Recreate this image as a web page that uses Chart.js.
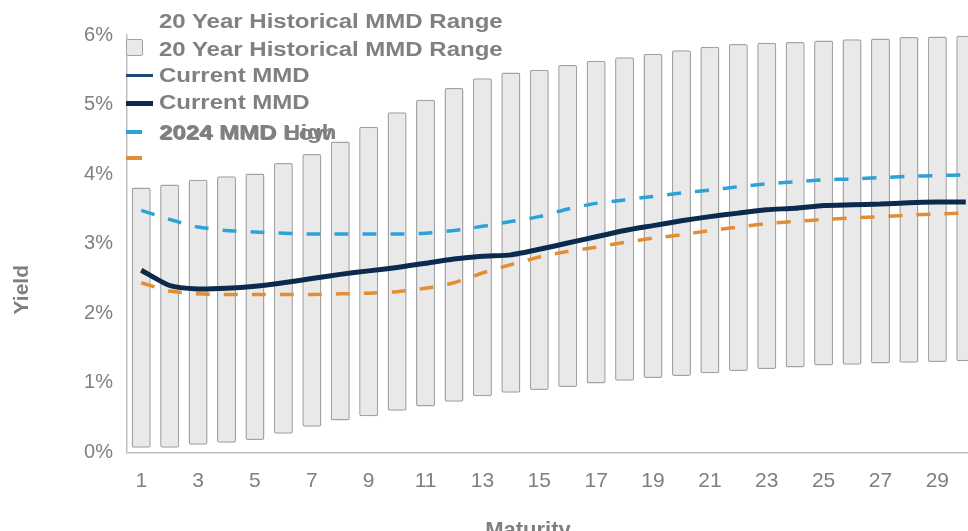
<!DOCTYPE html>
<html>
<head>
<meta charset="utf-8">
<script src="https://cdn.jsdelivr.net/npm/chart.js@4.4.1/dist/chart.umd.min.js"></script>
<style>
  html, body { margin: 0; padding: 0; background: #fff; overflow: hidden; }
  #wrap { position: relative; width: 990px; height: 545px; }
  #legend { position: absolute; left: 0; top: 0; width: 600px; height: 170px; pointer-events: none; }
  .lg-text {
    position: absolute; left: 159px;
    font-family: "Liberation Sans", Arial, sans-serif; font-weight: bold; font-size: 20px;
    color: #808080; line-height: 20px; white-space: nowrap;
    transform: scaleX(1.2); transform-origin: left center;
  }
  .lg-mark { position: absolute; left: 126px; }
</style>
</head>
<body>
<div id="wrap">
  <canvas id="chart" width="990" height="545"></canvas>
  <div id="legend"></div>
</div>
<script>
const maturities = [1, 2, 3, 4, 5, 6, 7, 8, 9, 10, 11, 12, 13, 14, 15, 16, 17, 18, 19, 20, 21, 22, 23, 24, 25, 26, 27, 28, 29, 30];
const rangeLow = [0.07, 0.07, 0.11, 0.14, 0.18, 0.27, 0.37, 0.46, 0.52, 0.60, 0.66, 0.73, 0.81, 0.86, 0.90, 0.94, 0.99, 1.03, 1.07, 1.10, 1.14, 1.17, 1.20, 1.22, 1.25, 1.26, 1.28, 1.29, 1.30, 1.31];
const rangeHigh = [3.81, 3.85, 3.92, 3.97, 4.01, 4.16, 4.29, 4.47, 4.68, 4.89, 5.07, 5.24, 5.38, 5.46, 5.50, 5.57, 5.63, 5.68, 5.73, 5.78, 5.83, 5.87, 5.89, 5.90, 5.92, 5.94, 5.95, 5.97, 5.98, 5.99];
const currentMMD = [2.62, 2.40, 2.35, 2.36, 2.39, 2.44, 2.50, 2.56, 2.61, 2.66, 2.72, 2.78, 2.82, 2.84, 2.92, 3.01, 3.10, 3.19, 3.26, 3.33, 3.39, 3.44, 3.49, 3.51, 3.55, 3.56, 3.57, 3.59, 3.60, 3.60];
const high2024 = [3.48, 3.35, 3.24, 3.19, 3.17, 3.15, 3.14, 3.14, 3.14, 3.14, 3.15, 3.19, 3.25, 3.32, 3.39, 3.50, 3.58, 3.63, 3.68, 3.73, 3.77, 3.82, 3.86, 3.89, 3.92, 3.93, 3.95, 3.97, 3.98, 3.99];
const low2024 = [2.44, 2.32, 2.28, 2.27, 2.27, 2.27, 2.27, 2.28, 2.29, 2.31, 2.36, 2.44, 2.58, 2.70, 2.81, 2.89, 2.95, 3.02, 3.08, 3.13, 3.19, 3.24, 3.29, 3.32, 3.35, 3.37, 3.39, 3.41, 3.43, 3.44];
const xTickLabels = ["1", "3", "5", "7", "9", "11", "13", "15", "17", "19", "21", "23", "25", "27", "29"];
const yTicks = [0, 1, 2, 3, 4, 5, 6];

const grey = "#7f7f7f";
const fontFamily = "'Liberation Sans', Arial, sans-serif";

// axis titles sit off-centre in the original, so they are drawn here
const axisTitles = {
    id: "axisTitles",
    afterDraw(chart) {
        const { ctx, chartArea: a } = chart;
        ctx.save();
        ctx.fillStyle = grey;
        ctx.font = "bold 21px " + fontFamily;
        ctx.textAlign = "center";
        ctx.textBaseline = "middle";
        ctx.translate(a.left - 105, a.top + (a.bottom - a.top) * 0.61);
        ctx.rotate(-Math.PI / 2);
        ctx.fillText("Yield", 0, 0);
        ctx.restore();

        ctx.save();
        ctx.fillStyle = grey;
        ctx.font = "bold 22px " + fontFamily;
        ctx.textAlign = "center";
        ctx.textBaseline = "middle";
        ctx.fillText("Maturity", a.left + (a.right - a.left) * 0.47, a.bottom + 78);
        ctx.restore();
    }
};

new Chart(document.getElementById("chart"), {
    data: {
        labels: maturities.map(String),
        datasets: [
            {
                type: "line", label: "Current MMD", data: currentMMD,
                borderColor: "#0c2a4e", borderWidth: 5, pointRadius: 0, tension: 0.2, order: 1
            },
            {
                type: "line", label: "2024 MMD High", data: high2024,
                borderColor: "#2ba3d8", borderWidth: 3.5, borderDash: [14, 14], pointRadius: 0, tension: 0.2, order: 2
            },
            {
                type: "line", label: "2024 MMD Low", data: low2024,
                borderColor: "#e38d35", borderWidth: 3.5, borderDash: [14, 14], pointRadius: 0, tension: 0.2, order: 3
            },
            {
                type: "bar", label: "20 Year Historical MMD Range",
                data: rangeLow.map((lo, i) => [lo, rangeHigh[i]]),
                backgroundColor: "#e9e9e9", borderColor: "#a3a3a3", borderWidth: 1.5,
                borderRadius: 2, borderSkipped: false,
                categoryPercentage: 1, barPercentage: 0.67, order: 10
            }
        ]
    },
    options: {
        responsive: false,
        animation: false,
        devicePixelRatio: 1,
        layout: { padding: { top: 35, right: 10, bottom: 0, left: 0 } },
        plugins: { legend: { display: false }, tooltip: { enabled: false } },
        scales: {
            x: {
                offset: true,
                grid: { display: false, drawTicks: false },
                border: { display: true, color: "#bfbfbf", width: 1.5 },
                ticks: {
                    autoSkip: false, maxRotation: 0, padding: 16, color: grey,
                    font: { family: fontFamily, size: 21 },
                    callback: function (v) {
                        const lab = this.getLabelForValue(v);
                        return xTickLabels.includes(lab) ? lab : "";
                    }
                },
                afterFit: s => { s.height = 92.5; }
            },
            y: {
                min: 0, max: 6,
                afterBuildTicks: s => { s.ticks = yTicks.map(v => ({ value: v })); },
                grid: { display: false, drawTicks: false },
                border: { display: true, color: "#bfbfbf", width: 1.5 },
                ticks: { padding: 14, color: grey, font: { family: fontFamily, size: 20 }, callback: v => v + "%" },
                afterFit: s => { s.width = 127; }
            }
        }
    },
    plugins: [axisTitles]
});

// legend drawn as html on top of the canvas
const legendRows = [
    { y: 21, text: ["20 Year Historical MMD Range"] },
    { y: 49, text: ["20 Year Historical MMD Range"], mark: "left:126px;top:39px;width:17px;height:17px;background:#e9e9e9;border:1.5px solid #a3a3a3;border-radius:2px;box-sizing:border-box;" },
    { y: 75, text: ["Current MMD"], mark: "top:74px;width:27px;height:2.5px;background:#1f4a78;" },
    { y: 102, text: ["Current MMD"], mark: "top:101px;width:27px;height:4.5px;background:#0c2a4e;" },
    { y: 132, text: ["2024 MMD High", "2024 MMD Low"], mark: "top:130px;width:16px;height:3.5px;background:#2ba3d8;" },
    { y: 158, text: [], mark: "top:156px;width:16px;height:3.5px;background:#e38d35;" }
];
const legend = document.getElementById("legend");
legendRows.forEach(r => {
    if (r.mark) {
        const m = document.createElement("div");
        m.className = "lg-mark";
        m.style.cssText += r.mark;
        legend.appendChild(m);
    }
    r.text.forEach((t, k) => {
        const s = document.createElement("div");
        s.className = "lg-text";
        s.textContent = t;
        s.style.top = (r.y - 10 + k) + "px";
        s.style.left = (159 + k) + "px";
        legend.appendChild(s);
    });
});
</script>
</body>
</html>
